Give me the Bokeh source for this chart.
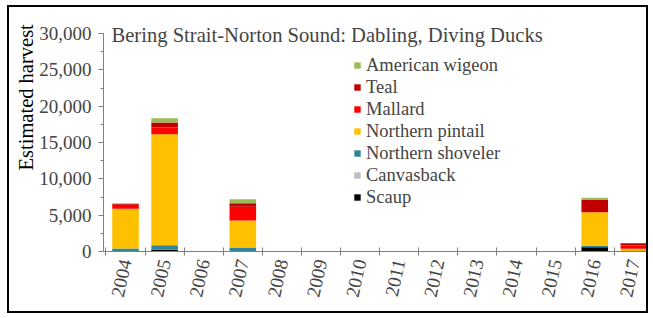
from bokeh.plotting import figure
from bokeh.models import (ColumnDataSource, Legend, LegendItem, Label, Title, FixedTicker,
                          SingleIntervalTicker, NumeralTickFormatter, Range1d)
from bokeh.embed import file_html
from bokeh.resources import INLINE

years = [2004, 2005, 2006, 2007, 2008, 2009, 2010, 2011, 2012, 2013, 2014, 2015, 2016, 2017]
scaup      = [0,    250,   0, 0,    0, 0, 0, 0, 0, 0, 0, 0, 600,  0]
canvasback = [0,    0,     0, 0,    0, 0, 0, 0, 0, 0, 0, 0, 0,    0]
shoveler   = [410,  600,   0, 550,  0, 0, 0, 0, 0, 0, 0, 0, 180,  20]
pintail    = [5460, 15300, 0, 3700, 0, 0, 0, 0, 0, 0, 0, 0, 4620, 370]
mallard    = [550,  900,   0, 1900, 0, 0, 0, 0, 0, 0, 0, 0, 0,    440]
teal       = [150,  700,   0, 500,  0, 0, 0, 0, 0, 0, 0, 0, 1700, 320]
wigeon     = [50,   600,   0, 550,  0, 0, 0, 0, 0, 0, 0, 0, 280,  0]

species = ["scaup", "canvasback", "shoveler", "pintail", "mallard", "teal", "wigeon"]
names = ["Scaup", "Canvasback", "Northern shoveler", "Northern pintail", "Mallard", "Teal", "American wigeon"]
colors = ["#000000", "#BFBFBF", "#31849B", "#FFC000", "#FF0000", "#C00000", "#9BBB59"]

source = ColumnDataSource(dict(years=years, scaup=scaup, canvasback=canvasback, shoveler=shoveler,
                               pintail=pintail, mallard=mallard, teal=teal, wigeon=wigeon))

FONT = "Liberation Serif"
Y_MAX = 30000

p = figure(width=641, height=308, output_backend="svg", toolbar_location=None,
           x_range=Range1d(2003.437, 2017.40), y_range=Range1d(0, Y_MAX * 229 / 218),
           min_border_left=94, min_border_right=1, min_border_top=15, min_border_bottom=64)
p.styles = {"border": "2px solid black", "margin-left": "7px", "margin-top": "5px"}
p.outline_line_color = None
p.xgrid.grid_line_color = None
p.ygrid.grid_line_color = None

rs = p.vbar_stack(species, x="years", width=0.68, color=colors, line_color=None, source=source)

# axes
p.yaxis.bounds = (0, Y_MAX)
p.yaxis.ticker = SingleIntervalTicker(interval=5000, num_minor_ticks=2)
p.yaxis.formatter = NumeralTickFormatter(format="0,0")
p.yaxis.major_label_text_font = FONT
p.yaxis.major_label_text_font_size = "19px"
p.yaxis.major_label_standoff = 7
p.yaxis.major_tick_in = 0
p.yaxis.major_tick_out = 5
p.yaxis.minor_tick_in = 0
p.yaxis.minor_tick_out = 3
p.yaxis.axis_line_color = "#808080"
p.yaxis.major_tick_line_color = "#808080"
p.yaxis.minor_tick_line_color = "#808080"

p.xaxis.ticker = FixedTicker(ticks=years, minor_ticks=[y - 0.5 for y in years] + [years[-1] + 0.5])
p.xaxis.major_label_orientation = 1.35
p.xaxis.major_label_text_font = FONT
p.xaxis.major_label_text_font_size = "19px"
p.xaxis.major_label_standoff = 4
p.xaxis.major_tick_in = 0
p.xaxis.major_tick_out = 0
p.xaxis.minor_tick_in = 4
p.xaxis.minor_tick_out = 4
p.xaxis.axis_line_color = "#808080"
p.xaxis.minor_tick_line_color = "#808080"

# y-axis title (placed higher than centre, as in the original)
p.add_layout(Title(text="Estimated harvest", align="left", offset=81, standoff=0,
                   text_font=FONT, text_font_size="20.5px", text_font_style="normal",
                   text_color="black"), "left")

# title inside plot
p.add_layout(Label(x=2003.64, y=29860, text="Bering Strait-Norton Sound: Dabling, Diving Ducks",
                   text_font=FONT, text_font_size="20.6px", text_baseline="alphabetic"))

items = [LegendItem(label=names[i], renderers=[rs[i]]) for i in reversed(range(len(species)))]
legend = Legend(items=items, location=(250, 43), padding=0, margin=0, spacing=0,
                glyph_width=8, glyph_height=8, label_height=22, label_standoff=5,
                label_text_font=FONT, label_text_font_size="18.5px",
                border_line_color=None, background_fill_alpha=0)
p.add_layout(legend)

open("out.html", "w").write(file_html(p, INLINE))
